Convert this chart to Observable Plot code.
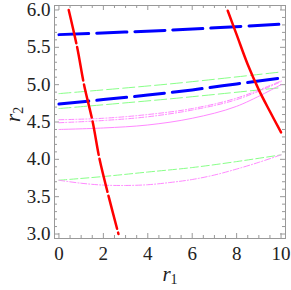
<!DOCTYPE html>
<html>
<head>
<meta charset="utf-8">
<script src="https://cdn.jsdelivr.net/npm/d3@7"></script>
<script src="https://cdn.jsdelivr.net/npm/@observablehq/plot@0.6"></script>
<style>
  html, body { margin: 0; padding: 0; background: #fff; }
  svg text { font-family: 'Liberation Serif', 'Times New Roman', serif !important; }
</style>
</head>
<body>
<div id="chart"></div>
<script>
// ---- data ----
const xMajor = [0, 2, 4, 6, 8, 10];
const xMinor = [0.5, 1, 1.5, 2.5, 3, 3.5, 4.5, 5, 5.5, 6.5, 7, 7.5, 8.5, 9, 9.5];
const yMajor = [3.0, 3.5, 4.0, 4.5, 5.0, 5.5, 6.0];
const yMinor = [3.1, 3.2, 3.3, 3.4, 3.6, 3.7, 3.8, 3.9, 4.1, 4.2, 4.3, 4.4, 4.6, 4.7, 4.8, 4.9, 5.1, 5.2, 5.3, 5.4, 5.6, 5.7, 5.8, 5.9];

// red long-dashed curve (steep, left)
const redDashR1 = [0.44, 0.82, 1.13, 1.52, 1.83, 2.24, 2.68];
const redDashR2 = [6.0, 5.5, 5.0, 4.5, 4.0, 3.5, 3.0];
// red solid curve (right)
const redSolidR1 = [7.6, 8.0, 8.5, 9.0, 9.5, 10.0];
const redSolidR2 = [5.99, 5.67, 5.27, 4.93, 4.64, 4.36];
// blue thick dashed
const blueUpR1 = [0, 5, 10];
const blueUpR2 = [5.67, 5.73, 5.81];
const blueLoR1 = [0, 2, 4, 6, 8, 10];
const blueLoR2 = [4.74, 4.80, 4.86, 4.93, 5.01, 5.09];
// green thin dashed
const greenUpR1 = [0, 5, 10];
const greenUpR2 = [4.88, 5.01, 5.17];
const greenMidR1 = [0, 5, 10];
const greenMidR2 = [4.68, 4.81, 4.96];
const greenLoR1 = [0, 2, 4, 6, 8, 10];
const greenLoR2 = [3.72, 3.77, 3.83, 3.89, 3.97, 4.06];
// magenta thin curves
const magAR1 = [0, 2, 4, 6, 8, 10];
const magAR2 = [4.53, 4.55, 4.60, 4.68, 4.82, 5.05];
const magBR1 = [0, 2, 4, 6, 8, 10];
const magBR2 = [4.49, 4.52, 4.57, 4.66, 4.80, 5.04];
const magSR1 = [0, 2, 4, 6, 8, 10];
const magSR2 = [4.40, 4.42, 4.46, 4.55, 4.71, 5.00];
const magLoR1 = [0, 1, 2, 3, 4, 5, 6, 7, 8, 9, 10];
const magLoR2 = [3.72, 3.68, 3.655, 3.65, 3.66, 3.69, 3.73, 3.79, 3.87, 3.96, 4.06];

const rows = (xs, ys) => xs.map((x, i) => ({x, y: ys[i]}));

const W = 291, H = 290;
const mL = 54, mR = 6, mT = 5, mB = 52;
const fw = W - mL - mR, fh = H - mT - mB;
const font = "'Liberation Serif', 'Times New Roman', serif";
const gray = "#999";

const lineOpts = (stroke, width, dash) => ({x: "x", y: "y", stroke, strokeWidth: width, strokeDasharray: dash, curve: "catmull-rom"});

const chart = Plot.plot({
  width: W, height: H,
  marginLeft: mL, marginRight: mR, marginTop: mT, marginBottom: mB,
  style: {fontFamily: font, background: "#fff"},
  x: {domain: [-0.2, 10.2], axis: null},
  y: {domain: [2.94, 6.06], axis: null},
  marks: [
    // ticks (inward), all four sides
    Plot.ruleX(xMajor, {x: d => d, insetTop: fh - 5, stroke: gray}),
    Plot.ruleX(xMinor, {x: d => d, insetTop: fh - 3, stroke: gray}),
    Plot.ruleX(xMajor, {x: d => d, insetBottom: fh - 5, stroke: gray}),
    Plot.ruleX(xMinor, {x: d => d, insetBottom: fh - 3, stroke: gray}),
    Plot.ruleY(yMajor, {y: d => d, insetRight: fw - 5, stroke: gray}),
    Plot.ruleY(yMinor, {y: d => d, insetRight: fw - 3, stroke: gray}),
    Plot.ruleY(yMajor, {y: d => d, insetLeft: fw - 5, stroke: gray}),
    Plot.ruleY(yMinor, {y: d => d, insetLeft: fw - 3, stroke: gray}),
    // curves
    Plot.line(rows(greenUpR1, greenUpR2), lineOpts("#88ff88", 1, "12,4")),
    Plot.line(rows(greenMidR1, greenMidR2), lineOpts("#88ff88", 1, "12,4")),
    Plot.line(rows(greenLoR1, greenLoR2), lineOpts("#88ff88", 1, "8,3")),
    Plot.line(rows(magAR1, magAR2), lineOpts("#ff88ff", 1, "5,2,1,2")),
    Plot.line(rows(magBR1, magBR2), lineOpts("#ff88ff", 1, "5,2,1,2")),
    Plot.line(rows(magSR1, magSR2), lineOpts("#ff88ff", 1, null)),
    Plot.line(rows(magLoR1, magLoR2), lineOpts("#ff88ff", 1, "6,2,1,2")),
    Plot.line(rows(blueUpR1, blueUpR2), lineOpts("#0000ff", 3, "30,8")),
    Plot.line(rows(blueLoR1, blueLoR2), lineOpts("#0000ff", 3, "30,8")),
    Plot.line(rows(redDashR1, redDashR2), lineOpts("#ff0000", 2.5, "34,4")),
    Plot.line(rows(redSolidR1, redSolidR2), lineOpts("#ff0000", 2.5, null)),
    // frame
    Plot.frame({stroke: gray}),
    // tick labels
    Plot.axisX(xMajor, {anchor: "bottom", tickSize: 0, tickPadding: 8, fontSize: 19, fontFamily: font, fill: "#222", label: null, tickFormat: d3.format("d")}),
    Plot.axisY(yMajor, {anchor: "left", tickSize: 0, tickPadding: 4, fontSize: 19, fontFamily: font, fill: "#222", label: null, tickFormat: d3.format(".1f")}),
    // axis titles
    Plot.text(["r₁"], {frameAnchor: "bottom", dy: 42, fontSize: 21, fontFamily: font, lineAnchor: "bottom", fill: "#222"}),
    Plot.text(["r₂"], {frameAnchor: "left", dx: -35, rotate: -90, fontSize: 21, fontFamily: font, lineAnchor: "bottom", fill: "#222"})
  ]
});

// italic r with upright subscript for the axis titles
d3.select(chart).selectAll("text").each(function() {
  const t = this.textContent;
  if (t === "r₁" || t === "r₂") {
    const sub = t === "r₁" ? "1" : "2";
    const sel = d3.select(this);
    sel.text(null);
    sel.append("tspan").attr("font-style", "italic").text("r");
    sel.append("tspan").attr("font-size", 14).attr("dy", "0.25em").text(sub);
  }
});

document.getElementById("chart").appendChild(chart);
</script>
</body>
</html>
